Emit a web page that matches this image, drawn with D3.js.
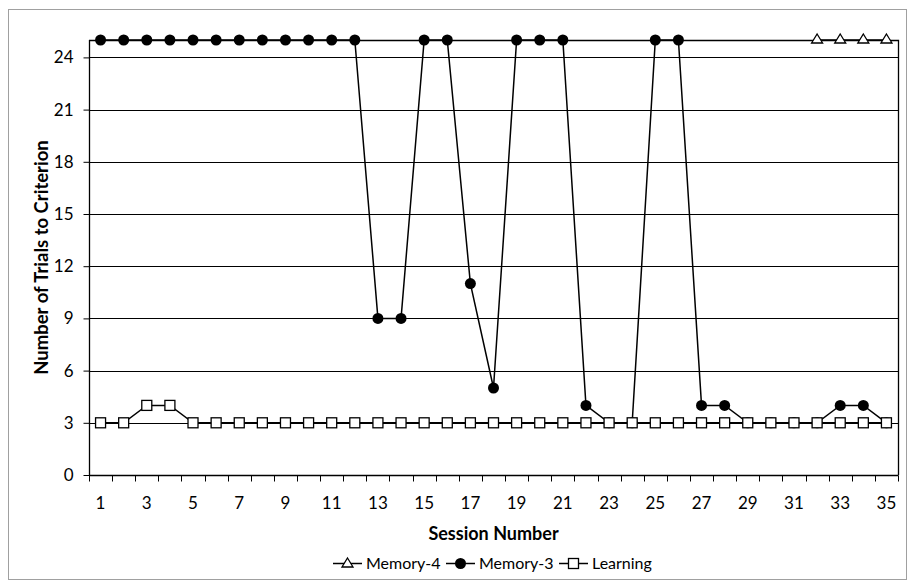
<!DOCTYPE html>
<html><head><meta charset="utf-8">
<script src="https://cdn.jsdelivr.net/npm/d3@7"></script>
<style>
body{margin:0;background:#fff;}
svg text{font-family:Lato, "Open Sans", sans-serif;fill:#000;}
</style></head>
<body><svg id="c" width="915" height="588"></svg>
<script>
const sessions = [1,2,3,4,5,6,7,8,9,10,11,12,13,14,15,16,17,18,19,20,21,22,23,24,25,26,27,28,29,30,31,32,33,34,35];
const memory4 = [null,null,null,null,null,null,null,null,null,null,null,null,null,null,null,null,null,null,null,null,null,null,null,null,null,null,null,null,null,null,null,25,25,25,25];
const memory3 = [25,25,25,25,25,25,25,25,25,25,25,25,9,9,25,25,11,5,25,25,25,4,3,3,25,25,4,4,3,3,3,3,4,4,3];
const learning = [3,3,4,4,3,3,3,3,3,3,3,3,3,3,3,3,3,3,3,3,3,3,3,3,3,3,3,3,3,3,3,3,3,3,3];
const yTicks = [0,3,6,9,12,15,18,21,24];
const xTickLabels = [1,3,5,7,9,11,13,15,17,19,21,23,25,27,29,31,33,35];
const seriesNames = ["Memory-4","Memory-3","Learning"];

const svg = d3.select("#c");
const L=89, R=898, T=40, B=475;
const x = d3.scaleBand().domain(sessions).range([L,R]).padding(0);
const y = d3.scaleLinear().domain([0,25]).range([B,T]);
const cx = d => x(d)+x.bandwidth()/2;

// outer border
svg.append("rect").attr("x",8.5).attr("y",9.5).attr("width",898).attr("height",570)
  .attr("fill","none").attr("stroke","#a0a0a0").attr("stroke-width",1);

// gridlines
svg.append("g").selectAll("line").data(yTicks.filter(v=>v>0)).join("line")
  .attr("x1",L).attr("x2",R).attr("y1",d=>Math.round(y(d))+0.5).attr("y2",d=>Math.round(y(d))+0.5)
  .attr("stroke","#000").attr("stroke-width",1);

// plot border top/right
svg.append("path").attr("d",`M${L},${T+0.5}H${R+0.5}V${B}`).attr("fill","none").attr("stroke","#000").attr("stroke-width",1.3);

// axes
const yAxis = d3.axisLeft(y).tickValues(yTicks).tickSize(6).tickPadding(10).tickFormat(d3.format("d"));
const gy = svg.append("g").attr("transform",`translate(${L+0.5},0)`).call(yAxis);
gy.select(".domain").attr("d",`M0,${T}V${B}`).attr("stroke","#000").attr("stroke-width",1.3);
gy.selectAll(".tick line").attr("stroke","#000");
gy.selectAll("text").style("font-size","17px");

const boundaries = sessions.map(s=>x(s)).concat([R]);
const gx = svg.append("g").attr("transform",`translate(0,${B+0.5})`);
gx.append("line").attr("x1",L).attr("x2",R+0.5).attr("stroke","#000").attr("stroke-width",1.3);
gx.selectAll("line.tk").data(boundaries).join("line").attr("class","tk")
  .attr("x1",d=>Math.round(d)+0.5).attr("x2",d=>Math.round(d)+0.5).attr("y1",0).attr("y2",6).attr("stroke","#000");
gx.selectAll("text").data(xTickLabels).join("text")
  .attr("x",d=>cx(d)).attr("y",33).attr("text-anchor","middle").style("font-size","17px").text(d=>d);

// axis titles
svg.append("text").attr("x",(L+R)/2).attr("y",540).attr("text-anchor","middle")
  .style("font-size","18px").style("font-weight","bold").text("Session Number");
svg.append("text").attr("transform",`translate(48,${(T+B)/2}) rotate(-90)`).attr("text-anchor","middle")
  .style("font-size","18.5px").style("font-weight","bold").text("Number of Trials to Criterion");

// series
const line = d3.line().defined(d=>d.v!=null).x(d=>cx(d.s)).y(d=>y(d.v));
const mk = arr => sessions.map((s,i)=>({s, v:arr[i]}));
const triPath = "M0,-5L5.5,4L-5.5,4Z";

function drawLine(arr){
  svg.append("path").datum(mk(arr)).attr("d",line).attr("fill","none").attr("stroke","#000").attr("stroke-width",1.5);
}
// Memory-4
drawLine(memory4);
svg.append("g").selectAll("path").data(mk(memory4).filter(d=>d.v!=null)).join("path")
  .attr("d",triPath).attr("transform",d=>`translate(${cx(d.s)},${y(d.v)-1})`)
  .attr("fill","#fff").attr("stroke","#000").attr("stroke-width",1.3);
// Memory-3
drawLine(memory3);
svg.append("g").selectAll("circle").data(mk(memory3)).join("circle")
  .attr("cx",d=>cx(d.s)).attr("cy",d=>y(d.v)).attr("r",5.5).attr("fill","#000");
// Learning
drawLine(learning);
svg.append("g").selectAll("rect").data(mk(learning)).join("rect")
  .attr("x",d=>cx(d.s)-5).attr("y",d=>y(d.v)-5).attr("width",10).attr("height",10)
  .attr("fill","#fff").attr("stroke","#000").attr("stroke-width",1.3);

// legend
const lg = svg.append("g").attr("transform","translate(0,563)");
const items = [
  {name:seriesNames[0], x0:333, tx:366, m:"tri"},
  {name:seriesNames[1], x0:446, tx:479, m:"circ"},
  {name:seriesNames[2], x0:559, tx:592, m:"sq"}
];
items.forEach(it=>{
  lg.append("line").attr("x1",it.x0).attr("x2",it.x0+29).attr("y1",0.5).attr("y2",0.5).attr("stroke","#000").attr("stroke-width",1.5);
  const mx = it.x0+14.5;
  if(it.m==="tri") lg.append("path").attr("d",triPath).attr("transform",`translate(${mx},0)`).attr("fill","#fff").attr("stroke","#000").attr("stroke-width",1.3);
  if(it.m==="circ") lg.append("circle").attr("cx",mx).attr("cy",0.5).attr("r",5.5).attr("fill","#000");
  if(it.m==="sq") lg.append("rect").attr("x",mx-5).attr("y",-4.5).attr("width",10).attr("height",10).attr("fill","#fff").attr("stroke","#000").attr("stroke-width",1.3);
  lg.append("text").attr("x",it.tx).attr("y",6).style("font-size","16px").text(it.name);
});
</script></body></html>
